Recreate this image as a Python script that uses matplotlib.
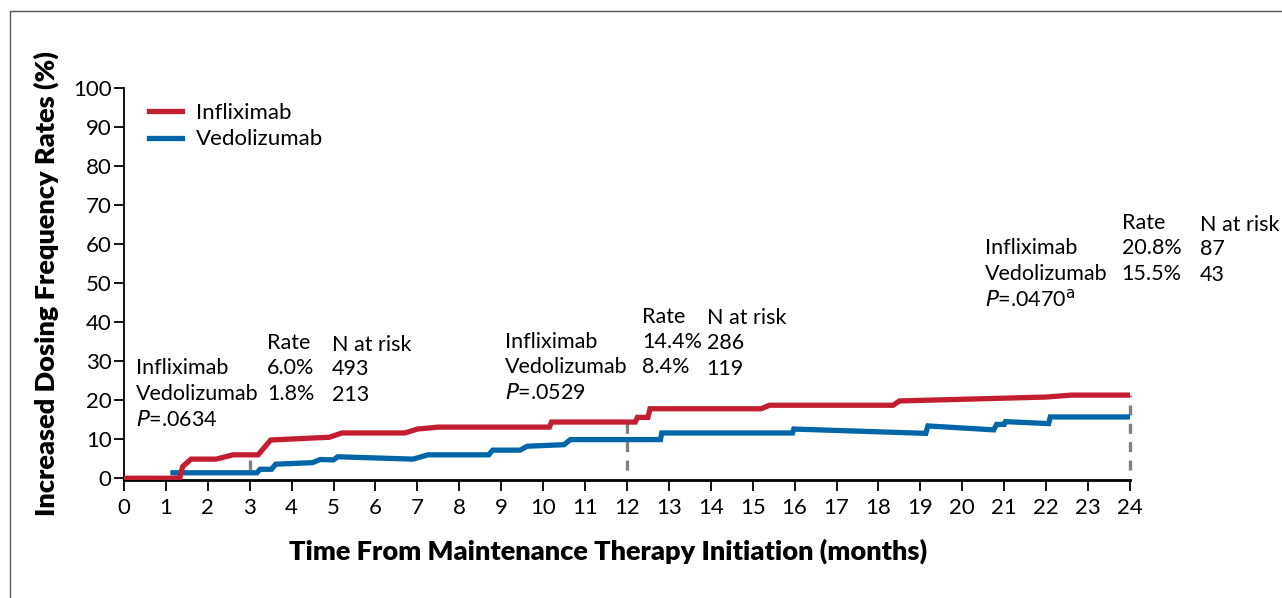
import matplotlib.pyplot as plt
from matplotlib.patches import Rectangle

plt.rcParams['font.family'] = ['Lato', 'DejaVu Sans']

# curves (months, %)
inf_x = [0, 1.33, 1.4, 1.6, 2.2, 2.6, 3.2, 3.5, 4.9, 5.2, 6.7, 7.0, 7.5, 10.15, 10.2,
         12.2, 12.25, 12.5, 12.55, 15.2, 15.4, 18.35, 18.5, 22.0, 22.6, 24.05]
inf_y = [0, 0, 3.0, 4.9, 4.9, 6.0, 6.0, 9.8, 10.5, 11.6, 11.6, 12.6, 13.1, 13.1, 14.4,
         14.4, 15.6, 15.6, 17.8, 17.8, 18.7, 18.7, 19.8, 20.8, 21.3, 21.3]

ved_x = [1.17, 3.17, 3.25, 3.52, 3.62, 4.5, 4.68, 5.0, 5.1, 6.9, 7.25, 8.7, 8.8, 9.45,
         9.62, 10.5, 10.65, 12.8, 12.83, 15.95, 15.98, 19.13, 19.18, 20.75, 20.82, 21.0,
         21.03, 22.06, 22.1, 24.0]
ved_y = [1.4, 1.4, 2.3, 2.3, 3.6, 4.0, 4.8, 4.7, 5.5, 4.9, 6.0, 6.0, 7.2, 7.2,
         8.2, 8.6, 9.9, 9.9, 11.6, 11.6, 12.6, 11.5, 13.4, 12.4, 13.8, 13.8,
         14.5, 14.0, 15.7, 15.7]

# summary tables at 3, 12, 24 months
cut_months = [3, 12, 24]
cut_red = [6.0, 14.4, 21.3]
inf_rate = ['6.0%', '14.4%', '20.8%']
ved_rate = ['1.8%', '8.4%', '15.5%']
inf_risk = ['493', '286', '87']
ved_risk = ['213', '119', '43']
pvals = ['$\\it{P}$=.0634', '$\\it{P}$=.0529', '$\\it{P}$=.0470$^{\\mathrm{a}}$']

# text anchor positions (data coords): name col x, rate col x, risk col x, first row y
tab_pos = [(0.29, 3.41, 4.96, 28.2),
           (9.09, 12.36, 13.9, 35.0),
           (20.54, 23.8, 25.67, 59.0)]

RED = '#C21E30'
BLUE = '#0066A8'

fig = plt.figure(figsize=(12.82, 5.98), dpi=100)
ax = fig.add_axes([0.0967, 0.197, 0.7847, 0.656])

for x, yr in zip(cut_months, cut_red):
    ax.plot([x, x], [2, yr], color='#808080', lw=2.4, ls=(0, (3, 2.5)), zorder=1,
            clip_on=False)

ax.plot(ved_x, ved_y, color=BLUE, lw=3.8, solid_joinstyle='miter', label='Vedolizumab', zorder=2)
ax.plot(inf_x, inf_y, color=RED, lw=3.8, solid_joinstyle='miter', label='Infliximab', zorder=3)

ax.set_xlim(0, 24)
ax.set_ylim(-0.5, 100)
ax.set_xticks(range(0, 25))
ax.set_yticks(range(0, 101, 10))
ax.tick_params(axis='both', labelsize=16, direction='out', color='black')
ax.tick_params(axis='y', length=7, width=1.3, pad=2)
ax.tick_params(axis='x', length=8, width=1.3, pad=5)
ax.spines['top'].set_visible(False)
ax.spines['right'].set_visible(False)
ax.spines['bottom'].set_linewidth(2)
ax.spines['left'].set_linewidth(1.3)

ax.set_xlabel('Time From Maintenance Therapy Initiation (months)', fontsize=19.5,
              fontweight='heavy')
ax.xaxis.set_label_coords(0.481, -0.148)
ax.set_ylabel('Increased Dosing Frequency Rates (%)', fontsize=19.5,
              fontweight='heavy', labelpad=10)

h, l = ax.get_legend_handles_labels()
ax.legend(h[::-1], l[::-1], loc='upper left', bbox_to_anchor=(0.005, 1.013), frameon=False,
          fontsize=16, handlelength=1.5, handletextpad=0.6, labelspacing=0.3)

dy = 6.6
fs = 15.5
for (xn, xr, xk, y0), ir, vr, ik, vk, pv in zip(tab_pos, inf_rate, ved_rate,
                                                 inf_risk, ved_risk, pvals):
    ax.text(xr, y0 + dy * 0.97, 'Rate', fontsize=fs, va='center')
    ax.text(xk, y0 + dy * 0.9, 'N at risk', fontsize=fs, va='center')
    ax.text(xn, y0, 'Infliximab', fontsize=fs, va='center')
    ax.text(xn, y0 - dy, 'Vedolizumab', fontsize=fs, va='center')
    ax.text(xn, y0 - 2 * dy, pv, fontsize=fs, va='center')
    ax.text(xr, y0, ir, fontsize=fs, va='center')
    ax.text(xr, y0 - dy, vr, fontsize=fs, va='center')
    ax.text(xk, y0 - 0.3, ik, fontsize=fs, va='center')
    ax.text(xk, y0 - dy - 0.3, vk, fontsize=fs, va='center')

for t in ax.texts:
    t.set_clip_on(False)

# outer frame of the panel (only top and left edges visible)
fig.add_artist(Rectangle((10 / 1282, -0.1), 1.2, (598 - 11) / 598 + 0.1, fill=False,
                         lw=1, ec='#555555', transform=fig.transFigure))

fig.savefig('out.png', dpi=100)
